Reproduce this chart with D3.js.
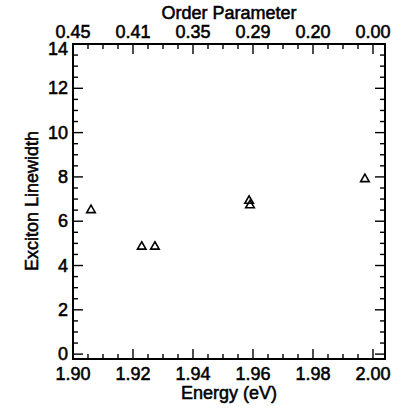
<!DOCTYPE html>
<html><head><meta charset="utf-8">
<script src="https://cdn.jsdelivr.net/npm/d3@7"></script>
<style>body{margin:0;background:#fff}svg{display:block}text{font-family:"Liberation Sans",Arial,sans-serif;fill:#000;stroke:#000;stroke-width:0.55px}</style>
</head><body>
<script>
const energy = [1.906, 1.9229, 1.9273, 1.9587, 1.9590, 1.9973];
const linewidth = [6.5, 4.85, 4.85, 6.92, 6.72, 7.9];
const bottomTicks = [1.90, 1.92, 1.94, 1.96, 1.98, 2.00];
const topTickLabels = ["0.45", "0.41", "0.35", "0.29", "0.20", "0.00"];
const yTicks = [0, 2, 4, 6, 8, 10, 12, 14];

const W = 410, H = 413;
const m = {left: 73, right: 385, top: 44, bottom: 359};
const svg = d3.select("body").append("svg").attr("width", W).attr("height", H);
const x = d3.scaleLinear().domain([1.90, 2.0040]).range([m.left, m.right]);
const y = d3.scaleLinear().domain([-0.22, 14]).range([m.bottom, m.top]);

const fs = "18px";
svg.append("rect").attr("x", m.left).attr("y", m.top).attr("width", m.right - m.left).attr("height", m.bottom - m.top)
  .attr("fill", "none").attr("stroke", "#000").attr("stroke-width", 2);

const xMinor = d3.range(1.90, 2.0041, 0.005);
const yMinor = d3.range(0, 14.01, 0.5);
const g = svg.append("g").attr("stroke", "#000").attr("stroke-width", 1.4);
xMinor.forEach(v => {
  const major = Math.abs(Math.round(v * 50) - v * 50) < 1e-6;
  const L = major ? 10 : 5;
  g.append("line").attr("x1", x(v)).attr("x2", x(v)).attr("y1", m.bottom).attr("y2", m.bottom - L);
  g.append("line").attr("x1", x(v)).attr("x2", x(v)).attr("y1", m.top).attr("y2", m.top + L);
});
yMinor.forEach(v => {
  const major = Math.abs(v % 2) < 1e-6;
  const L = major ? 10 : 5;
  g.append("line").attr("y1", y(v)).attr("y2", y(v)).attr("x1", m.left).attr("x2", m.left + L);
  g.append("line").attr("y1", y(v)).attr("y2", y(v)).attr("x1", m.right).attr("x2", m.right - L);
});

svg.append("g").selectAll("text").data(bottomTicks).join("text")
  .attr("x", d => x(d)).attr("y", 380).attr("text-anchor", "middle").style("font-size", fs)
  .text(d => d.toFixed(2));
svg.append("g").selectAll("text").data(bottomTicks).join("text")
  .attr("x", d => x(d)).attr("y", 38).attr("text-anchor", "middle").style("font-size", fs)
  .text((d, i) => topTickLabels[i]);
svg.append("g").selectAll("text").data(yTicks).join("text")
  .attr("x", 68).attr("y", d => y(d) + 6 + (d === 14 ? 5 : 0)).attr("text-anchor", "end").style("font-size", fs)
  .text(d => d);

svg.append("text").attr("x", 229).attr("y", 399).attr("text-anchor", "middle").style("font-size", fs).text("Energy (eV)");
svg.append("text").attr("x", 229).attr("y", 19).attr("text-anchor", "middle").style("font-size", fs).text("Order Parameter");
svg.append("text").attr("transform", "translate(38,201) rotate(-90)").attr("text-anchor", "middle").style("font-size", fs).text("Exciton Linewidth");

const tri = d3.symbol().type(d3.symbolTriangle).size(32);
svg.append("g").selectAll("path").data(energy).join("path")
  .attr("d", tri).attr("transform", (d, i) => `translate(${x(d)},${y(linewidth[i])})`)
  .attr("fill", "none").attr("stroke", "#000").attr("stroke-width", 1.6);
</script>
</body></html>
